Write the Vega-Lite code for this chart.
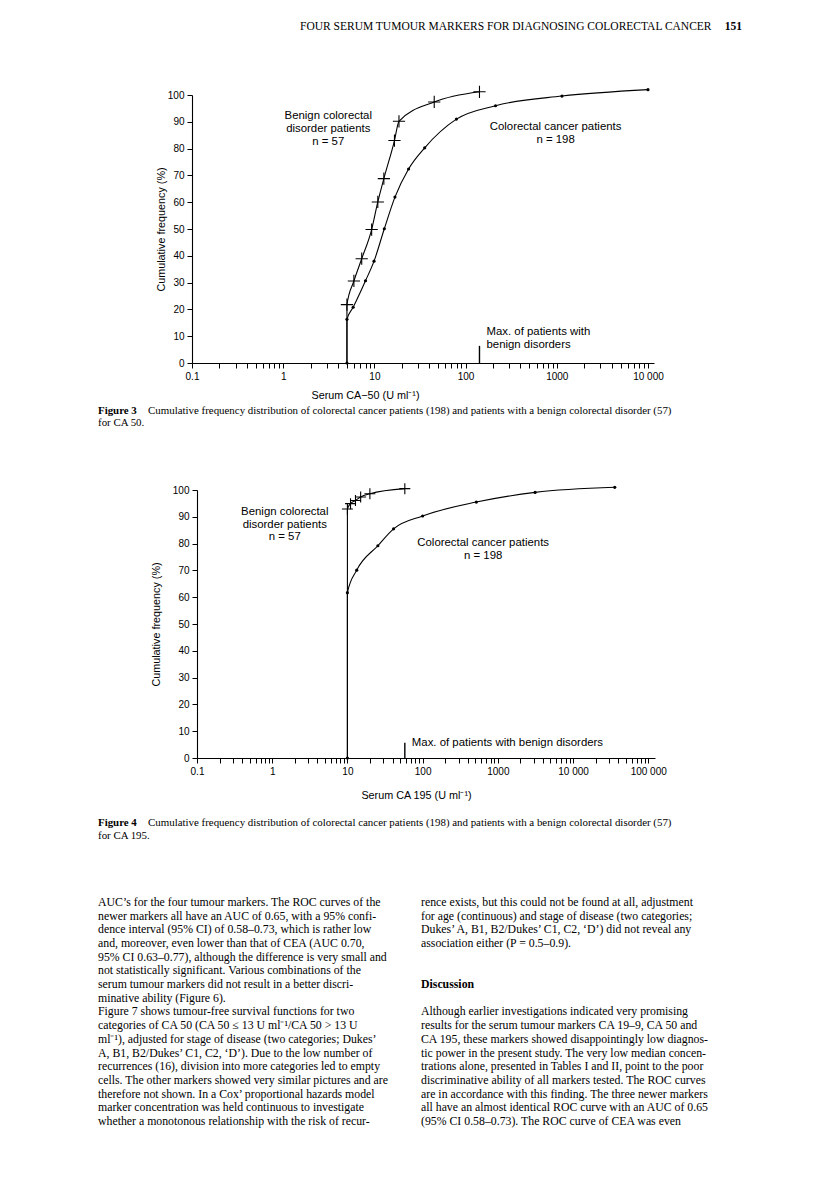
{
  "$schema": "https://vega.github.io/schema/vega-lite/v6.json",
  "background": "white",
  "padding": 0,
  "bounds": "flush",
  "spacing": 0,
  "config": {
    "view": {"stroke": null},
    "concat": {"spacing": 0},
    "axis": {"grid": false, "domainColor": "#000", "tickColor": "#000", "labelColor": "#000", "titleColor": "#000", "labelFont": "Liberation Sans", "titleFont": "Liberation Sans", "labelFontSize": 10, "titleFontSize": 10.8, "titleFontWeight": "normal", "tickSize": 5, "domainWidth": 1.1, "tickWidth": 1, "labelOverlap": false}
  },
  "datasets": {
    "blank": [{"s": ""}],
    "header": [
      {"col": 0, "line": 0, "text": "FOUR SERUM TUMOUR MARKERS FOR DIAGNOSING COLORECTAL CANCER"},
      {"col": 1, "line": 0, "text": "151"}
    ],
    "ca50": [
      {"g": "benign", "x": 5, "y": 0},
      {"g": "benign", "x": 5, "y": 21.8},
      {"g": "benign", "x": 5.96, "y": 30.6},
      {"g": "benign", "x": 7.26, "y": 38.9},
      {"g": "benign", "x": 9.33, "y": 49.8},
      {"g": "benign", "x": 10.9, "y": 60.1},
      {"g": "benign", "x": 12.7, "y": 68.8},
      {"g": "benign", "x": 16.6, "y": 83.0},
      {"g": "benign", "x": 18.6, "y": 90.2},
      {"g": "benign", "x": 45.3, "y": 97.4},
      {"g": "benign", "x": 142, "y": 101.2},
      {"g": "cancer", "x": 5, "y": 0},
      {"g": "cancer", "x": 5, "y": 16.3},
      {"g": "cancer", "x": 5.85, "y": 20.8},
      {"g": "cancer", "x": 7.99, "y": 30.7},
      {"g": "cancer", "x": 9.91, "y": 38.0},
      {"g": "cancer", "x": 12.85, "y": 50.1},
      {"g": "cancer", "x": 16.8, "y": 61.9},
      {"g": "cancer", "x": 23.7, "y": 72.4},
      {"g": "cancer", "x": 35.6, "y": 80.3},
      {"g": "cancer", "x": 79.4, "y": 91.0},
      {"g": "cancer", "x": 213, "y": 96.0},
      {"g": "cancer", "x": 1140, "y": 99.6},
      {"g": "cancer", "x": 10000, "y": 102.0}
    ],
    "ca195": [
      {"g": "benign", "x": 10, "y": 0},
      {"g": "benign", "x": 10, "y": 92.9},
      {"g": "benign", "x": 11.0, "y": 94.9},
      {"g": "benign", "x": 12.8, "y": 96.1},
      {"g": "benign", "x": 15.0, "y": 97.4},
      {"g": "benign", "x": 19.9, "y": 98.6},
      {"g": "benign", "x": 58, "y": 100.5},
      {"g": "cancer", "x": 10, "y": 0},
      {"g": "cancer", "x": 10, "y": 61.7},
      {"g": "cancer", "x": 13.3, "y": 70.1},
      {"g": "cancer", "x": 25.4, "y": 79.2},
      {"g": "cancer", "x": 41.1, "y": 85.5},
      {"g": "cancer", "x": 100, "y": 90.3},
      {"g": "cancer", "x": 518, "y": 95.5},
      {"g": "cancer", "x": 3130, "y": 99.1},
      {"g": "cancer", "x": 35900, "y": 101.0}
    ],
    "max50": [{"x": 142, "base": 0, "top": 6.4}],
    "max195": [{"x": 58, "base": 0, "top": 5.7}],
    "notes50": [
      {"x": 3.12, "y": 92.1, "text": "Benign colorectal\ndisorder patients\nn = 57"},
      {"x": 970, "y": 88.1, "text": "Colorectal cancer patients\nn = 198"}
    ],
    "maxnote50": [{"x": 142, "y": 11.4, "text": "Max. of patients with\nbenign disorders"}],
    "notes195": [
      {"x": 1.47, "y": 91.7, "text": "Benign colorectal\ndisorder patients\nn = 57"},
      {"x": 638, "y": 80.1, "text": "Colorectal cancer patients\nn = 198"}
    ],
    "maxnote195": [{"x": 58, "y": 5.7, "text": "Max. of patients with benign disorders"}],
    "cap3": [
      {"col": 0, "line": 0, "seg": "label", "text": "Figure 3"},
      {"col": 0, "line": 0, "seg": "body", "text": "Cumulative frequency distribution of colorectal cancer patients (198) and patients with a benign colorectal disorder (57)"},
      {"col": 0, "line": 1, "seg": "body", "text": "for CA 50."}
    ],
    "cap4": [
      {"col": 0, "line": 0, "seg": "label", "text": "Figure 4"},
      {"col": 0, "line": 0, "seg": "body", "text": "Cumulative frequency distribution of colorectal cancer patients (198) and patients with a benign colorectal disorder (57)"},
      {"col": 0, "line": 1, "seg": "body", "text": "for CA 195."}
    ],
    "body": [
      {"col": 0, "line": 0, "kind": "text", "text": "AUC’s for the four tumour markers. The ROC curves of the"},
      {"col": 0, "line": 1, "kind": "text", "text": "newer markers all have an AUC of 0.65, with a 95% confi-"},
      {"col": 0, "line": 2, "kind": "text", "text": "dence interval (95% CI) of 0.58–0.73, which is rather low"},
      {"col": 0, "line": 3, "kind": "text", "text": "and, moreover, even lower than that of CEA (AUC 0.70,"},
      {"col": 0, "line": 4, "kind": "text", "text": "95% CI 0.63–0.77), although the difference is very small and"},
      {"col": 0, "line": 5, "kind": "text", "text": "not statistically significant. Various combinations of the"},
      {"col": 0, "line": 6, "kind": "text", "text": "serum tumour markers did not result in a better discri-"},
      {"col": 0, "line": 7, "kind": "text", "text": "minative ability (Figure 6)."},
      {"col": 0, "line": 8, "kind": "text", "text": "\u2003Figure 7 shows tumour-free survival functions for two"},
      {"col": 0, "line": 9, "kind": "text", "text": "categories of CA 50 (CA 50 ≤ 13 U ml⁻¹/CA 50 > 13 U"},
      {"col": 0, "line": 10, "kind": "text", "text": "ml⁻¹), adjusted for stage of disease (two categories; Dukes’"},
      {"col": 0, "line": 11, "kind": "text", "text": "A, B1, B2/Dukes’ C1, C2, ‘D’). Due to the low number of"},
      {"col": 0, "line": 12, "kind": "text", "text": "recurrences (16), division into more categories led to empty"},
      {"col": 0, "line": 13, "kind": "text", "text": "cells. The other markers showed very similar pictures and are"},
      {"col": 0, "line": 14, "kind": "text", "text": "therefore not shown. In a Cox’ proportional hazards model"},
      {"col": 0, "line": 15, "kind": "text", "text": "marker concentration was held continuous to investigate"},
      {"col": 0, "line": 16, "kind": "text", "text": "whether a monotonous relationship with the risk of recur-"},
      {"col": 1, "line": 0, "kind": "text", "text": "rence exists, but this could not be found at all, adjustment"},
      {"col": 1, "line": 1, "kind": "text", "text": "for age (continuous) and stage of disease (two categories;"},
      {"col": 1, "line": 2, "kind": "text", "text": "Dukes’ A, B1, B2/Dukes’ C1, C2, ‘D’) did not reveal any"},
      {"col": 1, "line": 3, "kind": "text", "text": "association either (P = 0.5–0.9)."},
      {"col": 1, "line": 6, "kind": "heading", "text": "Discussion"},
      {"col": 1, "line": 8, "kind": "text", "text": "Although earlier investigations indicated very promising"},
      {"col": 1, "line": 9, "kind": "text", "text": "results for the serum tumour markers CA 19–9, CA 50 and"},
      {"col": 1, "line": 10, "kind": "text", "text": "CA 195, these markers showed disappointingly low diagnos-"},
      {"col": 1, "line": 11, "kind": "text", "text": "tic power in the present study. The very low median concen-"},
      {"col": 1, "line": 12, "kind": "text", "text": "trations alone, presented in Tables I and II, point to the poor"},
      {"col": 1, "line": 13, "kind": "text", "text": "discriminative ability of all markers tested. The ROC curves"},
      {"col": 1, "line": 14, "kind": "text", "text": "are in accordance with this finding. The three newer markers"},
      {"col": 1, "line": 15, "kind": "text", "text": "all have an almost identical ROC curve with an AUC of 0.65"},
      {"col": 1, "line": 16, "kind": "text", "text": "(95% CI 0.58–0.73). The ROC curve of CEA was even"}
    ]
  },
  "vconcat": [
    {
      "width": 816, "height": 54,
      "data": {"name": "header"},
      "layer": [
        {"transform": [{"filter": "datum.col == 0"}], "mark": {"type": "text", "align": "left", "baseline": "middle", "font": "Liberation Serif", "fontSize": 11.5, "color": "#000"},
         "encoding": {
           "x": {"field": "col", "type": "ordinal", "scale": {"type": "point", "domain": [0, 1], "range": [300, 742], "padding": 0}, "axis": null},
           "y": {"field": "line", "type": "ordinal", "scale": {"type": "point", "domain": [0], "padding": 0.5}, "axis": null},
           "text": {"field": "text", "type": "nominal"}}},
        {"transform": [{"filter": "datum.col == 1"}], "mark": {"type": "text", "align": "right", "baseline": "middle", "font": "Liberation Serif", "fontSize": 11.5, "fontWeight": "bold", "color": "#000"},
         "encoding": {
           "x": {"field": "col", "type": "ordinal"},
           "y": {"field": "line", "type": "ordinal"},
           "text": {"field": "text", "type": "nominal"}}}
      ]
    },
    {"width": 816, "height": 41, "data": {"name": "blank"}, "mark": {"type": "text"}, "encoding": {"text": {"field": "s"}}},
    {
      "width": 816, "height": 268,
      "layer": [
        {
          "data": {"name": "ca50"},
          "mark": {"type": "line", "interpolate": "monotone", "color": "#000", "strokeWidth": 1.1},
          "encoding": {
            "x": {"field": "x", "type": "quantitative", "scale": {"type": "log", "domain": [0.1, 11640], "range": [192, 654], "nice": false},
              "axis": {"title": "Serum CA−50 (U ml⁻¹)", "values": [0.1,0.2,0.3,0.4,0.5,0.6,0.7,0.8,0.9,1,2,3,4,5,6,7,8,9,10,20,30,40,50,60,70,80,90,100,200,300,400,500,600,700,800,900,1000,2000,3000,4000,5000,6000,7000,8000,9000,10000],
                "labelExpr": "datum.value == 0.1 ? '0.1' : datum.value == 1 ? '1' : datum.value == 10 ? '10' : datum.value == 100 ? '100' : datum.value == 1000 ? '1000' : datum.value == 10000 ? '10 000' : ''",
                "labelFlush": false, "labelOverlap": false, "labelPadding": 3, "titleX": 365, "titleY": 32, "titleAlign": "center", "titleBaseline": "middle"}},
            "y": {"field": "y", "type": "quantitative", "scale": {"domain": [0, 100], "nice": false},
              "axis": {"title": "Cumulative frequency (%)", "offset": -192, "values": [0,10,20,30,40,50,60,70,80,90,100], "tickCount": 11, "labelOverlap": false, "labelBound": false, "labelPadding": 3, "titleX": -31, "titleY": 134, "titleAngle": -90, "titleAlign": "center", "titleBaseline": "middle"}},
            "detail": {"field": "g", "type": "nominal"}
          }
        },
        {
          "data": {"name": "ca50"},
          "transform": [{"filter": "datum.g == 'benign' && datum.y > 0"}],
          "mark": {"type": "point", "shape": "M-1,0L1,0M0,-1L0,1", "filled": false, "size": 150, "strokeWidth": 1.1, "color": "#000", "opacity": 1},
          "encoding": {"x": {"field": "x", "type": "quantitative"}, "y": {"field": "y", "type": "quantitative"}}
        },
        {
          "data": {"name": "ca50"},
          "transform": [{"filter": "datum.g == 'cancer'"}],
          "mark": {"type": "point", "shape": "circle", "filled": true, "size": 10, "color": "#000", "opacity": 1},
          "encoding": {"x": {"field": "x", "type": "quantitative"}, "y": {"field": "y", "type": "quantitative"}}
        },
        {
          "data": {"name": "max50"},
          "mark": {"type": "rule", "color": "#000", "strokeWidth": 1.4},
          "encoding": {"x": {"field": "x", "type": "quantitative"}, "y": {"field": "base", "type": "quantitative"}, "y2": {"field": "top"}}
        },
        {
          "data": {"name": "notes50"},
          "mark": {"type": "text", "align": "center", "baseline": "middle", "lineBreak": "\n", "lineHeight": 12.8, "font": "Liberation Sans", "fontSize": 11.4, "color": "#000"},
          "encoding": {"x": {"field": "x", "type": "quantitative"}, "y": {"field": "y", "type": "quantitative"}, "text": {"field": "text", "type": "nominal"}}
        },
        {
          "data": {"name": "maxnote50"},
          "mark": {"type": "text", "align": "left", "baseline": "middle", "dx": 7, "lineBreak": "\n", "lineHeight": 12.5, "font": "Liberation Sans", "fontSize": 11.4, "color": "#000"},
          "encoding": {"x": {"field": "x", "type": "quantitative"}, "y": {"field": "y", "type": "quantitative"}, "text": {"field": "text", "type": "nominal"}}
        }
      ]
    },
    {"width": 816, "height": 42, "data": {"name": "blank"}, "mark": {"type": "text"}, "encoding": {"text": {"field": "s"}}},
    {
      "width": 816, "height": 24,
      "data": {"name": "cap3"},
      "layer": [
        {"transform": [{"filter": "datum.seg == 'label'"}], "mark": {"type": "text", "align": "left", "baseline": "middle", "font": "Liberation Serif", "fontSize": 10.9, "fontWeight": "bold", "color": "#000"},
         "encoding": {
           "x": {"field": "col", "type": "ordinal", "scale": {"type": "point", "domain": [0, 1], "range": [98, 733], "padding": 0}, "axis": null},
           "y": {"field": "line", "type": "ordinal", "scale": {"type": "point", "domain": [0, 1], "padding": 0.5}, "axis": null},
           "text": {"field": "text", "type": "nominal"}}},
        {"transform": [{"filter": "datum.seg == 'body' && datum.line == 0"}], "mark": {"type": "text", "align": "left", "baseline": "middle", "dx": 50, "font": "Liberation Serif", "fontSize": 10.9, "color": "#000"},
         "encoding": {"x": {"field": "col", "type": "ordinal"}, "y": {"field": "line", "type": "ordinal"}, "text": {"field": "text", "type": "nominal"}}},
        {"transform": [{"filter": "datum.seg == 'body' && datum.line == 1"}], "mark": {"type": "text", "align": "left", "baseline": "middle", "font": "Liberation Serif", "fontSize": 10.9, "color": "#000"},
         "encoding": {"x": {"field": "col", "type": "ordinal"}, "y": {"field": "line", "type": "ordinal"}, "text": {"field": "text", "type": "nominal"}}}
      ]
    },
    {"width": 816, "height": 61, "data": {"name": "blank"}, "mark": {"type": "text"}, "encoding": {"text": {"field": "s"}}},
    {
      "width": 816, "height": 268,
      "layer": [
        {
          "data": {"name": "ca195"},
          "mark": {"type": "line", "interpolate": "monotone", "color": "#000", "strokeWidth": 1.1},
          "encoding": {
            "x": {"field": "x", "type": "quantitative", "scale": {"type": "log", "domain": [0.1, 123000], "range": [197, 655], "nice": false},
              "axis": {"title": "Serum CA 195 (U ml⁻¹)", "values": [0.1,0.2,0.3,0.4,0.5,0.6,0.7,0.8,0.9,1,2,3,4,5,6,7,8,9,10,20,30,40,50,60,70,80,90,100,200,300,400,500,600,700,800,900,1000,2000,3000,4000,5000,6000,7000,8000,9000,10000,20000,30000,40000,50000,60000,70000,80000,90000,100000],
                "labelExpr": "datum.value == 0.1 ? '0.1' : datum.value == 1 ? '1' : datum.value == 10 ? '10' : datum.value == 100 ? '100' : datum.value == 1000 ? '1000' : datum.value == 10000 ? '10 000' : datum.value == 100000 ? '100 000' : ''",
                "labelFlush": false, "labelOverlap": false, "labelPadding": 3, "titleX": 416, "titleY": 37, "titleAlign": "center", "titleBaseline": "middle"}},
            "y": {"field": "y", "type": "quantitative", "scale": {"domain": [0, 100], "nice": false},
              "axis": {"title": "Cumulative frequency (%)", "offset": -197, "values": [0,10,20,30,40,50,60,70,80,90,100], "tickCount": 11, "labelOverlap": false, "labelBound": false, "labelPadding": 3, "titleX": -41, "titleY": 134, "titleAngle": -90, "titleAlign": "center", "titleBaseline": "middle"}},
            "detail": {"field": "g", "type": "nominal"}
          }
        },
        {
          "data": {"name": "ca195"},
          "transform": [{"filter": "datum.g == 'benign' && datum.y > 0"}],
          "mark": {"type": "point", "shape": "M-1,0L1,0M0,-1L0,1", "filled": false, "size": 120, "strokeWidth": 1.1, "color": "#000", "opacity": 1},
          "encoding": {"x": {"field": "x", "type": "quantitative"}, "y": {"field": "y", "type": "quantitative"}}
        },
        {
          "data": {"name": "ca195"},
          "transform": [{"filter": "datum.g == 'cancer'"}],
          "mark": {"type": "point", "shape": "circle", "filled": true, "size": 10, "color": "#000", "opacity": 1},
          "encoding": {"x": {"field": "x", "type": "quantitative"}, "y": {"field": "y", "type": "quantitative"}}
        },
        {
          "data": {"name": "max195"},
          "mark": {"type": "rule", "color": "#000", "strokeWidth": 1.4},
          "encoding": {"x": {"field": "x", "type": "quantitative"}, "y": {"field": "base", "type": "quantitative"}, "y2": {"field": "top"}}
        },
        {
          "data": {"name": "notes195"},
          "mark": {"type": "text", "align": "center", "baseline": "middle", "lineBreak": "\n", "lineHeight": 12.5, "font": "Liberation Sans", "fontSize": 11.4, "color": "#000"},
          "encoding": {"x": {"field": "x", "type": "quantitative"}, "y": {"field": "y", "type": "quantitative"}, "text": {"field": "text", "type": "nominal"}}
        },
        {
          "data": {"name": "maxnote195"},
          "mark": {"type": "text", "align": "left", "baseline": "middle", "dx": 7, "font": "Liberation Sans", "fontSize": 11.4, "color": "#000"},
          "encoding": {"x": {"field": "x", "type": "quantitative"}, "y": {"field": "y", "type": "quantitative"}, "text": {"field": "text", "type": "nominal"}}
        }
      ]
    },
    {"width": 816, "height": 57.5, "data": {"name": "blank"}, "mark": {"type": "text"}, "encoding": {"text": {"field": "s"}}},
    {
      "width": 816, "height": 26,
      "data": {"name": "cap4"},
      "layer": [
        {"transform": [{"filter": "datum.seg == 'label'"}], "mark": {"type": "text", "align": "left", "baseline": "middle", "font": "Liberation Serif", "fontSize": 10.9, "fontWeight": "bold", "color": "#000"},
         "encoding": {
           "x": {"field": "col", "type": "ordinal", "scale": {"type": "point", "domain": [0, 1], "range": [98, 733], "padding": 0}, "axis": null},
           "y": {"field": "line", "type": "ordinal", "scale": {"type": "point", "domain": [0, 1], "padding": 0.5}, "axis": null},
           "text": {"field": "text", "type": "nominal"}}},
        {"transform": [{"filter": "datum.seg == 'body' && datum.line == 0"}], "mark": {"type": "text", "align": "left", "baseline": "middle", "dx": 50, "font": "Liberation Serif", "fontSize": 10.9, "color": "#000"},
         "encoding": {"x": {"field": "col", "type": "ordinal"}, "y": {"field": "line", "type": "ordinal"}, "text": {"field": "text", "type": "nominal"}}},
        {"transform": [{"filter": "datum.seg == 'body' && datum.line == 1"}], "mark": {"type": "text", "align": "left", "baseline": "middle", "font": "Liberation Serif", "fontSize": 10.9, "color": "#000"},
         "encoding": {"x": {"field": "col", "type": "ordinal"}, "y": {"field": "line", "type": "ordinal"}, "text": {"field": "text", "type": "nominal"}}}
      ]
    },
    {"width": 816, "height": 52.65, "data": {"name": "blank"}, "mark": {"type": "text"}, "encoding": {"text": {"field": "s"}}},
    {
      "width": 816, "height": 232.9,
      "data": {"name": "body"},
      "layer": [
        {"transform": [{"filter": "datum.kind == 'text'"}], "mark": {"type": "text", "align": "left", "baseline": "middle", "font": "Liberation Serif", "fontSize": 11.8, "color": "#000"},
         "encoding": {
           "x": {"field": "col", "type": "ordinal", "scale": {"type": "point", "domain": [0, 1], "range": [98, 421], "padding": 0}, "axis": null},
           "y": {"field": "line", "type": "ordinal", "scale": {"type": "point", "domain": [0,1,2,3,4,5,6,7,8,9,10,11,12,13,14,15,16], "padding": 0.5}, "axis": null},
           "text": {"field": "text", "type": "nominal"}}},
        {"transform": [{"filter": "datum.kind == 'heading'"}], "mark": {"type": "text", "align": "left", "baseline": "middle", "font": "Liberation Serif", "fontSize": 11.8, "fontWeight": "bold", "color": "#000"},
         "encoding": {"x": {"field": "col", "type": "ordinal"}, "y": {"field": "line", "type": "ordinal"}, "text": {"field": "text", "type": "nominal"}}}
      ]
    }
  ]
}
